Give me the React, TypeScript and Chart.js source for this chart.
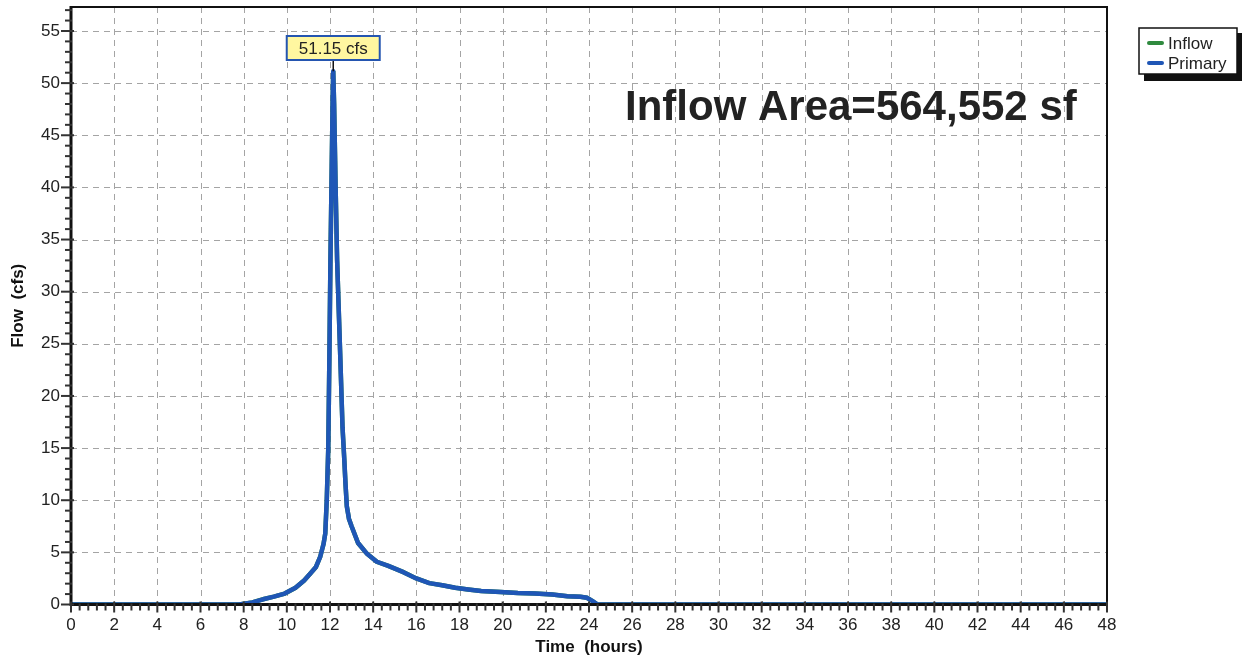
import React, { useEffect, useRef } from "react";
import { Chart, registerables } from "chart.js";

Chart.register(...registerables);

// ---- data ----
const timeHours = [
  0, 7.8, 8.4, 8.9, 9.4, 9.9, 10.4, 10.8, 11.1, 11.35, 11.55, 11.7, 11.78, 11.85, 11.92, 11.97,
  12.02, 12.08, 12.12, 12.15, 12.19, 12.26, 12.33, 12.48, 12.58, 12.66, 12.72, 12.78, 12.88, 13.0,
  13.3, 13.7, 14.17, 14.7, 15.4, 16.0, 16.6, 17.2, 17.8, 18.4, 19.0, 19.9, 20.7, 21.5, 22.3, 23.0,
  23.6, 23.9, 24.15, 24.4, 48,
];
const primaryFlow = [
  0, 0, 0.2, 0.5, 0.75, 1.05, 1.6, 2.3, 3.0, 3.6, 4.6, 5.8, 6.8, 10, 15, 23.5,
  33, 42, 48, 51.15, 48, 40, 33, 23.5, 17, 14, 11.5, 9.4, 8.2, 7.5,
  5.9, 4.9, 4.1, 3.7, 3.1, 2.5, 2.05, 1.85, 1.6, 1.44, 1.3, 1.2, 1.1, 1.05, 0.95, 0.8,
  0.75, 0.65, 0.35, 0, 0,
];
const inflowFlow = primaryFlow;
const seriesNames = ["Inflow", "Primary"];
const seriesColors = ["#2f8a3e", "#1f56b6"];
const peakTime = 12.15;
const peakFlow = 51.15;
const peakLabel = "51.15 cfs";
const chartTitle = "Inflow Area=564,552 sf";
const xTitle = "Time  (hours)";
const yTitle = "Flow  (cfs)";
const xMin = 0;
const xMax = 48;
const xStep = 2;
const xMinorStep = 0.4;
const yMin = 0;
const yMax = 57.3;
const yStep = 5;
const yMinorStep = 1;

const FONT = "'Liberation Sans', Arial, sans-serif";

const decorPlugin = {
  id: "decor",
  beforeDatasetsDraw(chart: any) {
    const { ctx, chartArea, scales } = chart;
    const { left, right, top, bottom } = chartArea;
    ctx.save();
    ctx.strokeStyle = "#a4a4a4";
    ctx.lineWidth = 1;
    ctx.setLineDash([6, 5]);
    for (let v = xMin + xStep; v < xMax; v += xStep) {
      const x = Math.round(scales.x.getPixelForValue(v)) + 0.5;
      ctx.beginPath();
      ctx.moveTo(x, top);
      ctx.lineTo(x, bottom);
      ctx.stroke();
    }
    for (let v = yMin + yStep; v < yMax; v += yStep) {
      const y = Math.round(scales.y.getPixelForValue(v)) + 0.5;
      ctx.beginPath();
      ctx.moveTo(left, y);
      ctx.lineTo(right, y);
      ctx.stroke();
    }
    ctx.restore();
  },
  afterDatasetsDraw(chart: any) {
    const { ctx, chartArea, scales } = chart;
    const { left, right, top, bottom } = chartArea;
    ctx.save();
    ctx.setLineDash([]);
    // top/right frame
    ctx.strokeStyle = "#111";
    ctx.lineWidth = 2;
    ctx.beginPath();
    ctx.moveTo(left, top);
    ctx.lineTo(right, top);
    ctx.lineTo(right, bottom);
    ctx.stroke();
    // axes
    ctx.lineWidth = 3;
    ctx.beginPath();
    ctx.moveTo(left, top - 1);
    ctx.lineTo(left, bottom);
    ctx.lineTo(right + 1, bottom);
    ctx.stroke();
    // ticks
    ctx.strokeStyle = "#333";
    ctx.lineWidth = 2;
    const nx = Math.round((xMax - xMin) / xMinorStep);
    for (let i = 0; i <= nx; i++) {
      const v = xMin + i * xMinorStep;
      const major = i % Math.round(xStep / xMinorStep) === 0;
      const x = scales.x.getPixelForValue(v);
      ctx.beginPath();
      ctx.moveTo(x, bottom - (major ? 3 : 1));
      ctx.lineTo(x, bottom + (major ? 8 : 6));
      ctx.stroke();
    }
    const ny = Math.floor((yMax - yMin) / yMinorStep + 1e-6);
    for (let i = 0; i <= ny; i++) {
      const v = yMin + i * yMinorStep;
      const major = i % Math.round(yStep / yMinorStep) === 0;
      const y = scales.y.getPixelForValue(v);
      ctx.beginPath();
      ctx.moveTo(left - (major ? 10 : 6), y);
      ctx.lineTo(left + (major ? 3 : 1), y);
      ctx.stroke();
    }

    // peak label
    const px = scales.x.getPixelForValue(peakTime);
    const py = scales.y.getPixelForValue(peakFlow);
    ctx.font = `17px ${FONT}`;
    const tw = ctx.measureText(peakLabel).width;
    const bw = tw + 24;
    const bh = 24;
    const bx = px - bw / 2;
    const by = 36;
    ctx.strokeStyle = "#111";
    ctx.lineWidth = 1.5;
    ctx.beginPath();
    ctx.moveTo(px, by + bh);
    ctx.lineTo(px, py);
    ctx.stroke();
    ctx.fillStyle = "#fff7a0";
    ctx.fillRect(bx, by, bw, bh);
    ctx.strokeStyle = "#2455b0";
    ctx.lineWidth = 2;
    ctx.strokeRect(bx, by, bw, bh);
    ctx.fillStyle = "#222";
    ctx.textAlign = "center";
    ctx.textBaseline = "middle";
    ctx.fillText(peakLabel, px, by + bh / 2 + 1);

    // title
    ctx.font = `bold 42px ${FONT}`;
    ctx.textAlign = "left";
    ctx.textBaseline = "alphabetic";
    ctx.fillStyle = "#222";
    ctx.fillText(chartTitle, 625, 120);

    // legend
    const lx = 1139, ly = 28, lw = 98, lh = 46;
    ctx.fillStyle = "#111";
    ctx.fillRect(lx + 5, ly + 5, lw, lh + 2);
    ctx.fillStyle = "#fff";
    ctx.fillRect(lx, ly, lw, lh);
    ctx.strokeStyle = "#111";
    ctx.lineWidth = 1.5;
    ctx.strokeRect(lx, ly, lw, lh);
    ctx.font = `17px ${FONT}`;
    ctx.textBaseline = "middle";
    seriesNames.forEach((name, i) => {
      const yy = ly + 15 + i * 20;
      ctx.strokeStyle = seriesColors[i];
      ctx.lineWidth = 4;
      ctx.lineCap = "round";
      ctx.beginPath();
      ctx.moveTo(lx + 10, yy);
      ctx.lineTo(lx + 23, yy);
      ctx.stroke();
      ctx.fillStyle = "#222";
      ctx.fillText(name, lx + 29, yy + 1);
    });
    ctx.restore();
  },
};

export default function App() {
  const ref = useRef<HTMLCanvasElement | null>(null);
  useEffect(() => {
    if (!ref.current) return;
    const chart = new Chart(ref.current, {
      type: "line",
      data: {
        datasets: [
          {
            label: seriesNames[0],
            data: timeHours.map((t, i) => ({ x: t, y: inflowFlow[i] })),
            borderColor: seriesColors[0],
            borderWidth: 4.5,
            pointRadius: 0,
            order: 2,
          },
          {
            label: seriesNames[1],
            data: timeHours.map((t, i) => ({ x: t, y: primaryFlow[i] })),
            borderColor: seriesColors[1],
            borderWidth: 4.5,
            pointRadius: 0,
            borderJoinStyle: "round",
            order: 1,
          },
        ],
      },
      options: {
        responsive: false,
        animation: false,
        layout: { padding: { top: 7, right: 136, left: 0, bottom: 0 } },
        plugins: { legend: { display: false }, tooltip: { enabled: false } },
        scales: {
          x: {
            type: "linear",
            min: xMin,
            max: xMax,
            ticks: { stepSize: xStep, padding: 11, color: "#222", font: { family: FONT, size: 17 }, maxRotation: 0, autoSkip: false },
            grid: { display: false, drawTicks: false },
            border: { display: false },
            title: { display: true, text: xTitle, color: "#111", font: { family: FONT, size: 17, weight: "bold" }, padding: { top: 0, bottom: 3 } },
            afterFit: (s: any) => { s.height = 56.5; s.paddingLeft = 0; s.paddingRight = 0; },
          },
          y: {
            type: "linear",
            min: yMin,
            max: yMax,
            ticks: {
              stepSize: yStep,
              padding: 11,
              color: "#222",
              font: { family: FONT, size: 17 },
              autoSkip: false,
              callback: (v: any) => (Math.abs(v % yStep) < 1e-6 ? String(v) : null),
            },
            grid: { display: false, drawTicks: false },
            border: { display: false },
            title: { display: true, text: yTitle, color: "#111", font: { family: FONT, size: 17, weight: "bold" }, padding: { top: 8, bottom: 0 } },
            afterFit: (s: any) => { s.width = 71; s.paddingTop = 0; s.paddingBottom = 0; },
          },
        },
      },
      plugins: [decorPlugin],
    });
    return () => chart.destroy();
  }, []);
  return (
    <div style={{ position: "absolute", left: 0, top: 0, width: 1243, height: 661, background: "#fff" }}>
      <canvas ref={ref} width={1243} height={661} />
    </div>
  );
}
